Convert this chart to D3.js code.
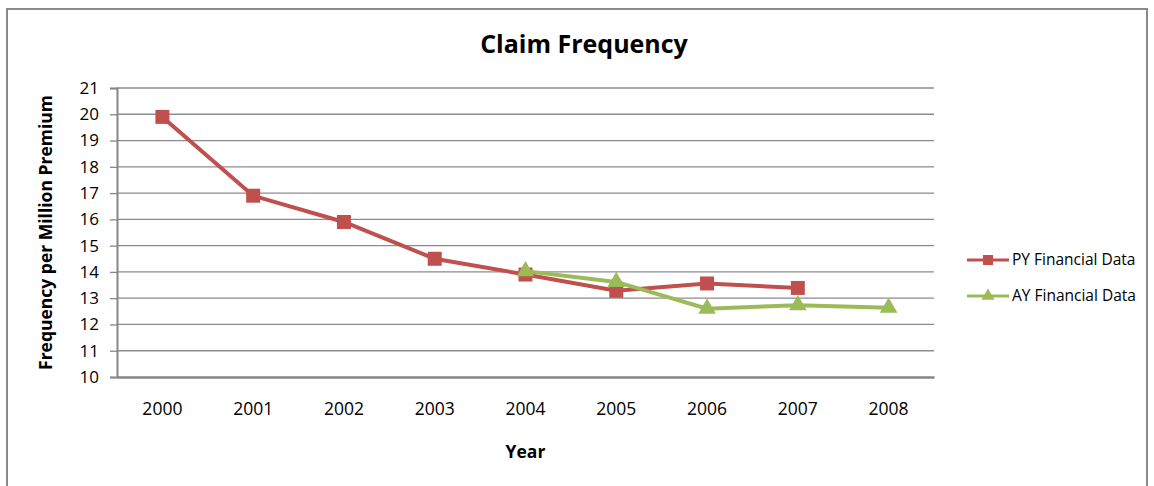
<!DOCTYPE html>
<html>
<head>
<meta charset="utf-8">
<script src="https://cdn.jsdelivr.net/npm/d3@7"></script>
<style>
  body { margin: 0; background: #fff; }
  text { font-family: "Open Sans", sans-serif; fill: #000; }
</style>
</head>
<body>
<svg class="chart" width="1154" height="486"></svg>
<script>
// chart data
var years = ["2000", "2001", "2002", "2003", "2004", "2005", "2006", "2007", "2008"];
var pyValues = [19.9, 16.9, 15.9, 14.5, 13.9, 13.28, 13.56, 13.39, null];
var ayValues = [null, null, null, null, 14.03, 13.62, 12.6, 12.73, 12.64];
var yTicks = [10, 11, 12, 13, 14, 15, 16, 17, 18, 19, 20, 21];
var seriesNames = ["PY Financial Data", "AY Financial Data"];

var svg = d3.select(".chart");
var plotLeft = 117, plotRight = 934, plotTop = 88, plotBottom = 377;

// outer frame
svg.append("rect")
    .attr("x", 7).attr("y", 9)
    .attr("width", 1140).attr("height", 490)
    .attr("fill", "none")
    .attr("stroke", "#8a8a8a")
    .attr("stroke-width", 2);

var xScale = d3.scaleBand().domain(years).range([plotLeft, plotRight]);
var yScale = d3.scaleLinear().domain([10, 21]).range([plotBottom, plotTop]);

var g = svg.append("g");

// gridlines
g.selectAll(".grid")
    .data(yTicks.slice(1))
    .enter().append("line")
    .attr("x1", plotLeft).attr("x2", plotRight)
    .attr("y1", function(d) { return yScale(d); })
    .attr("y2", function(d) { return yScale(d); })
    .attr("stroke", "#8c8c8c")
    .attr("stroke-width", 1.3);

// y axis
var yAxis = g.append("g")
    .attr("transform", "translate(" + plotLeft + ",0)")
    .call(d3.axisLeft(yScale).tickValues(yTicks).tickSize(7).tickPadding(11));
yAxis.select(".domain").attr("stroke", "#868686").attr("stroke-width", 2);
yAxis.selectAll(".tick line").attr("stroke", "#868686").attr("stroke-width", 1.3);
yAxis.selectAll("text").style("font-size", "17px").attr("fill", "#000");

// x axis
var xAxis = g.append("g")
    .attr("transform", "translate(0," + plotBottom + ")")
    .call(d3.axisBottom(xScale).tickSize(0).tickPadding(26));
xAxis.select(".domain").attr("stroke", "#868686").attr("stroke-width", 2.5);
xAxis.selectAll("text").style("font-size", "17.5px").attr("fill", "#000");

// titles
svg.append("text")
    .attr("x", 584).attr("y", 53)
    .attr("text-anchor", "middle")
    .style("font-size", "25px").style("font-weight", "bold")
    .text("Claim Frequency");

svg.append("text")
    .attr("x", (plotLeft + plotRight) / 2).attr("y", 458)
    .attr("text-anchor", "middle")
    .style("font-size", "17.5px").style("font-weight", "bold")
    .text("Year");

svg.append("text")
    .attr("transform", "translate(52," + (plotTop + plotBottom) / 2 + ") rotate(-90)")
    .attr("text-anchor", "middle")
    .style("font-size", "17.5px").style("font-weight", "bold")
    .text("Frequency per Million Premium");

function cx(i) { return xScale(years[i]) + xScale.bandwidth() / 2; }

var line = d3.line()
    .defined(function(d) { return d != null; })
    .x(function(d, i) { return cx(i); })
    .y(function(d) { return yScale(d); });

var colors = ["#C0504D", "#9BBB59"];
var square = d3.symbol().type(d3.symbolSquare).size(196);
var triangle = d3.symbol().type(d3.symbolTriangle).size(135);

[pyValues, ayValues].forEach(function(vals, s) {
    g.append("path")
        .datum(vals)
        .attr("fill", "none")
        .attr("stroke", colors[s])
        .attr("stroke-width", 4)
        .attr("d", line);
    g.selectAll(".pt" + s)
        .data(vals.map(function(v, i) { return { v: v, i: i }; }).filter(function(d) { return d.v != null; }))
        .enter().append("path")
        .attr("transform", function(d) { return "translate(" + cx(d.i) + "," + yScale(d.v) + ")"; })
        .attr("d", s == 0 ? square : triangle)
        .attr("fill", colors[s]);
});

// legend
var legend = svg.append("g");
seriesNames.forEach(function(name, s) {
    var ly = 260 + s * 36;
    legend.append("line")
        .attr("x1", 967).attr("x2", 1009)
        .attr("y1", ly).attr("y2", ly)
        .attr("stroke", colors[s]).attr("stroke-width", 3);
    legend.append("path")
        .attr("transform", "translate(988," + ly + ")")
        .attr("d", s == 0 ? d3.symbol().type(d3.symbolSquare).size(100)() : d3.symbol().type(d3.symbolTriangle).size(75)())
        .attr("fill", colors[s]);
    legend.append("text")
        .attr("x", 1012).attr("y", ly + 5)
        .style("font-size", "15.5px")
        .text(name);
});
</script>
</body>
</html>
